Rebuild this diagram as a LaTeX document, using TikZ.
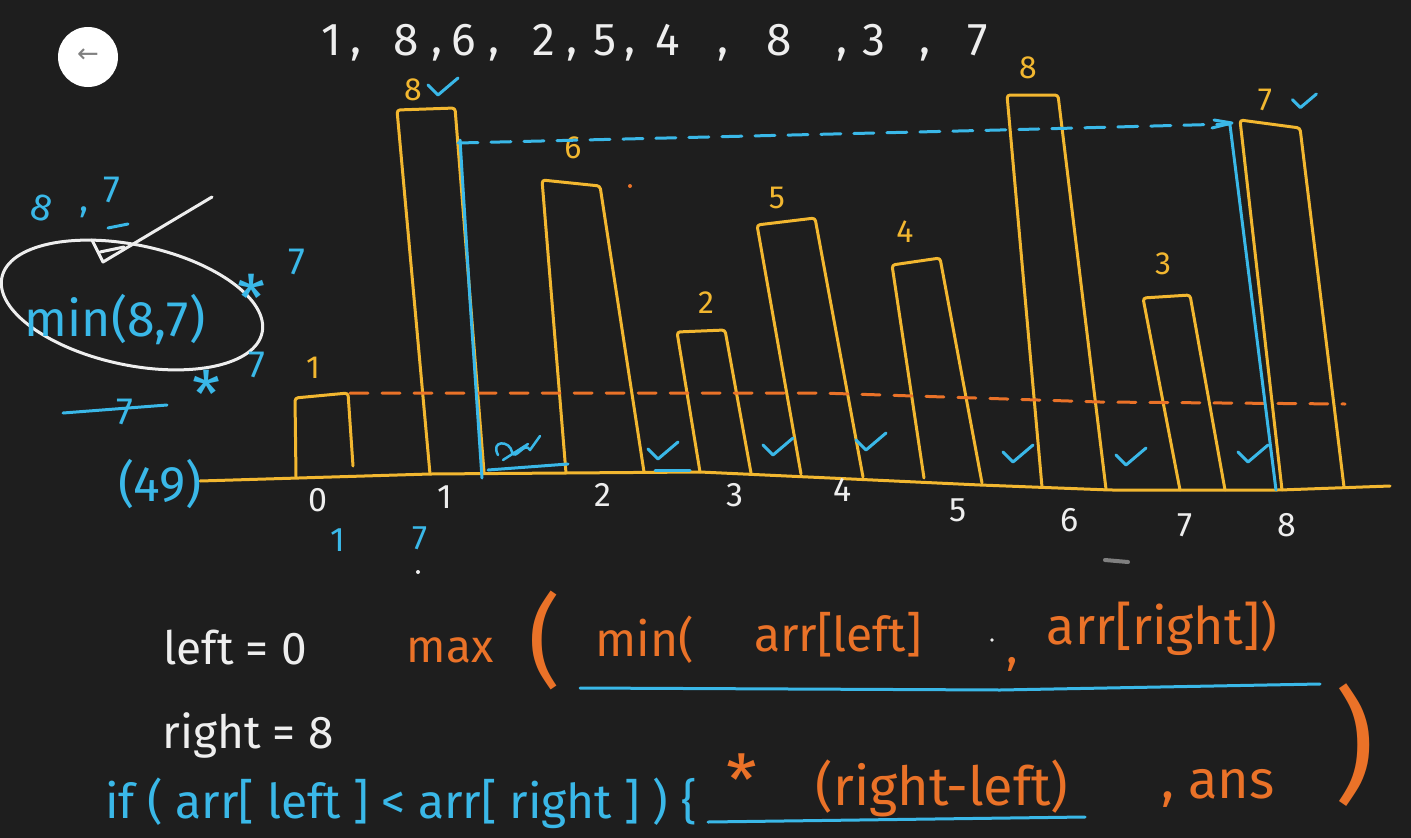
\documentclass[tikz,border=0pt]{standalone}
\usepackage{fontspec}
\setmainfont{Fira Sans}
\newfontfamily\symfont{DejaVu Sans}
\usetikzlibrary{arrows.meta}
\definecolor{bg}{RGB}{30,30,30}
\definecolor{barc}{RGB}{242,183,48}
\definecolor{blu}{RGB}{58,184,232}
\definecolor{org}{RGB}{234,114,40}
\definecolor{wht}{RGB}{238,238,238}
\newcommand{\fs}[1]{\fontsize{#1}{#1}\selectfont}
\begin{document}
\begin{tikzpicture}[x=1pt,y=-1pt,line cap=round,line join=round,
  bar/.style={draw=barc,line width=3pt,rounded corners=3pt},
  bline/.style={draw=blu,line width=3pt},
  bdash/.style={draw=blu,line width=3pt,dash pattern=on 20pt off 13pt},
  odash/.style={draw=org,line width=3pt,dash pattern=on 18pt off 14pt},
  wline/.style={draw=wht,line width=3pt},
  txt/.style={inner sep=0pt,anchor=center},
  chk/.pic={\draw[blu,line width=3pt] (-12,-3) -- (-2,7) -- (18,-10);}]
\fill[bg] (0,0) rectangle (1411,838);
\useasboundingbox (0,0) rectangle (1411,838);
\clip (0,0) rectangle (1411,838);

% back button
\node[circle,fill=white,minimum size=60pt,inner sep=0pt] (back) at (88,57) {};
\node[txt,text=gray] (backarrow) at (88,56) {\fs{26}\symfont ←};

% top array
\foreach \d/\x [count=\i] in {1/331,8/406,6/464,2/544,5/605,4/668,8/779,3/874,7/978}
  \node[txt,text=wht] (d\i) at (\x,40) {\fs{46}\d};
\foreach \x [count=\i] in {356,437,494,572,630,723,842,925}
  \node[txt,text=wht] (c\i) at (\x,54) {\fs{46},};

% baseline
\draw[bar,line width=3pt] (200,481) -- (430,474) -- (700,472) -- (830,478) -- (980,485) -- (1110,490) -- (1280,490) -- (1390,486);

% bars
\draw[bar] (296,477) -- (295,398) -- (348,393) -- (353,466);
\draw[bar] (430,474) -- (397,110) -- (455,108) -- (484,472);
\draw[bar] (566,473) -- (542,180) -- (600,186) -- (644,472);
\draw[bar] (700,472) -- (677,332) -- (725,330) -- (751,473);
\draw[bar] (801,474) -- (757,225) -- (815,218) -- (863,477);
\draw[bar] (924,478) -- (892,265) -- (940,258) -- (982,483);
\draw[bar] (1042,487) -- (1007,95) -- (1058,95) -- (1106,489);
\draw[bar] (1180,490) -- (1143,298) -- (1190,295) -- (1225,490);
\draw[bar] (1282,490) -- (1240,120) -- (1300,128) -- (1344,487);

% bar values
\foreach \v/\x/\y [count=\i] in {1/313/368,8/413/90,6/573/148,2/706/303,5/777/198,4/905/232,8/1028/68,3/1163/264,7/1265/100}
  \node[txt,text=barc] (v\i) at (\x,\y) {\fs{32}\v};

% indices
\foreach \v/\x/\y [count=\i] in {0/318/500,1/445/497,2/603/495,3/735/495,4/843/490,5/958/510,6/1070/520,7/1185/525,8/1287/525}
  \node[txt,text=wht] (ix\i) at (\x,\y) {\fs{34}\v};

% orange dashed level
\draw[odash] (350,393) -- (820,393) -- (1100,402) -- (1345,404);
% blue dashed level
\draw[bdash] (458,143) -- (1000,130) -- (1230,124);
\draw[bline] (1212,128) -- (1232,123) -- (1214,120);
% blue pointer lines
\draw[bline] (460,140) -- (470,300) -- (482,478);
\draw[bline] (1230,125) -- (1276,490);

% checks
\foreach \x/\y in {440/88,660/452,775/448,868/443,1015/455,1128/458,1250/455}
  \pic at (\x,\y) {chk};
\pic[scale=0.8] at (1302,102) {chk};
% scribble
\draw[bline,line width=2.5pt] (498,455) .. controls (490,440) and (510,440) .. (512,452) .. controls (515,462) and (525,440) .. (530,450) -- (540,436) (503,460) -- (528,444);
\draw[bline] (488,470) -- (568,464);
\draw[bline] (655,470) -- (690,470);
\node[txt,text=blu] (b1) at (338,540) {\fs{34}1};
\node[txt,text=blu] (b7) at (420,538) {\fs{34}7};
\fill[wht] (418,572) circle (2pt);
\fill[org] (630,186) circle (2pt);
\draw[gray,line width=4pt] (1105,560) -- (1128,562);

% left-side scratch work
\node[txt,text=blu,rotate=-15] (s8) at (42,208) {\fs{38}8};
\node[txt,text=blu] (scomma) at (84,212) {\fs{38},};
\node[txt,text=blu] (s7) at (112,190) {\fs{38}7};
\draw[bline] (108,228) -- (128,224);
\draw[wline] (92,240) -- (103,262) -- (212,197);
\draw[wline] (100,252) -- (124,247);
\draw[wline,rotate around={-12:(132,305)}] (132,305) ellipse (133 and 60);
\node[txt,text=blu] (minexpr) at (115,320) {\fs{50}min(8,7)};
\node[txt,text=blu] (st1) at (252,298) {\fs{64}*};
\node[txt,text=blu] (s71) at (297,262) {\fs{38}7};
\node[txt,text=blu] (st2) at (207,394) {\fs{64}*};
\node[txt,text=blu] (s72) at (257,365) {\fs{38}7};
\draw[bline] (63,413) -- (167,405);
\node[txt,text=blu] (s73) at (125,412) {\fs{38}7};
\node[txt,text=blu] (s49) at (160,484) {\fs{50}(49)};

% bottom formulas
\node[txt,text=wht] (leftv) at (235,648) {\fs{46}left = 0};
\node[txt,text=wht] (rightv) at (248,735) {\fs{46}right = 8};
\node[txt,text=org] (maxw) at (450,650) {\fs{46}max};
\node[txt,text=org] (op1) at (545,640) {\fs{100}(};
\node[txt,text=org] (minw) at (645,640) {\fs{48}min(};
\node[txt,text=org] (arrl) at (838,635) {\fs{48}arr[left]};
\fill[wht] (992,640) circle (1.8pt);
\node[txt,text=org] (cm1) at (1012,664) {\fs{48},};
\node[txt,text=org] (arrr) at (1162,628) {\fs{52}arr[right])};
\draw[bline] (580,688) -- (1000,690) -- (1320,684);

\node[txt,text=blu,anchor=west] (ifline) at (105,803) {\fs{48}if ( arr[ left ] < arr[ right ] ) \{};
\node[txt,text=org] (star) at (742,780) {\fs{70}*};
\node[txt,text=org] (rl) at (942,788) {\fs{54}(right-left)};
\node[txt,text=org] (ans) at (1218,788) {\fs{54}, ans};
\node[txt,text=org] (cp) at (1355,745) {\fs{124})};
\draw[bline] (708,822) -- (1085,817);
\end{tikzpicture}
\end{document}
